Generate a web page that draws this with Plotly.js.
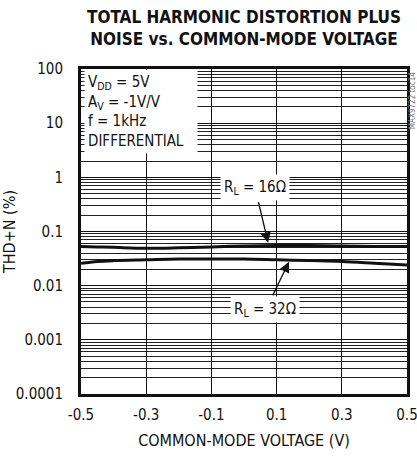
<!DOCTYPE html>
<html><head><meta charset="utf-8">
<script src="https://cdn.plot.ly/plotly-3.0.1.min.js"></script>
<style>body{margin:0;background:#fff}#c{width:417px;height:456px}</style>
</head><body><div id="c"></div>
<script>
const vcm = [-0.5, -0.45, -0.4, -0.3, -0.2, -0.1, 0.0, 0.1, 0.2, 0.3, 0.4, 0.5];
const thd16 = [0.053, 0.052, 0.051, 0.049, 0.050, 0.052, 0.054, 0.055, 0.055, 0.054, 0.053, 0.053];
const thd32 = [0.026, 0.028, 0.029, 0.030, 0.031, 0.031, 0.031, 0.030, 0.029, 0.028, 0.026, 0.024];
const xTicks = [-0.5, -0.3, -0.1, 0.1, 0.3, 0.5];
const xTickText = ['-0.5', '-0.3', '-0.1', '0.1', '0.3', '0.5'];
const yTicks = [0.0001, 0.001, 0.01, 0.1, 1, 10, 100];
const yTickText = ['0.0001', '0.001', '0.01', '0.1', '1', '10', '100'];

const F = 'DejaVu Sans Condensed, sans-serif';
const L = v => Math.log10(v);
const traces = [
  {x: vcm, y: thd16, mode: 'lines', line: {color: '#111', width: 3, shape: 'spline'}, hoverinfo: 'skip'},
  {x: vcm, y: thd32, mode: 'lines', line: {color: '#111', width: 3, shape: 'spline'}, hoverinfo: 'skip'}
];
const layout = {
  width: 417, height: 456,
  margin: {l: 81, r: 10, t: 69, b: 62},
  paper_bgcolor: '#fff', plot_bgcolor: '#fff',
  showlegend: false,
  font: {family: F, size: 14, color: '#111'},
  title: {text: '<b>TOTAL HARMONIC DISTORTION PLUS<br>NOISE vs. COMMON-MODE VOLTAGE</b>',
    font: {family: F, size: 17, color: '#111'}, xref: 'paper', x: 0.5, xanchor: 'center', y: 0.95, yanchor: 'middle'},
  xaxis: {range: [-0.5, 0.5], tickvals: xTicks, ticktext: xTickText, showgrid: true,
    gridcolor: '#111', gridwidth: 1, zeroline: false, showline: true, mirror: true,
    linecolor: '#111', linewidth: 3, ticks: '', tickfont: {size: 15}, ticklabeloverflow: 'allow',
    ticklabelstandoff: 5,
    title: {text: 'COMMON-MODE VOLTAGE (V)', font: {size: 16}, standoff: 12}},
  yaxis: {type: 'log', range: [-4, 2], tickvals: yTicks, ticktext: yTickText, showgrid: true,
    gridcolor: '#111', gridwidth: 1, zeroline: false, showline: true, mirror: true,
    linecolor: '#111', linewidth: 3, ticks: '', tickfont: {size: 15}, ticklabelstandoff: 12,
    minor: {showgrid: true, gridcolor: '#222', gridwidth: 1, dtick: 'D1'},
    title: {text: 'THD+N (%)', font: {size: 16}, standoff: 0}},
  annotations: [
    {xref: 'paper', yref: 'paper', x: 0.008, y: 1.0, xanchor: 'left', yanchor: 'top', align: 'left',
     text: 'V<sub>DD</sub> = 5V<br>A<sub>V</sub> = -1V/V<br>f = 1kHz<br>DIFFERENTIAL',
     showarrow: false, bgcolor: '#fff', borderpad: 3, width: 106, font: {size: 15}},
    {x: 0.034, y: L(0.64), text: 'R<sub>L</sub> = 16Ω', showarrow: false, bgcolor: '#fff', borderpad: 3, font: {size: 15}},
    {x: 0.064, y: L(0.0036), text: 'R<sub>L</sub> = 32Ω', showarrow: false, bgcolor: '#fff', borderpad: 3, font: {size: 15}},
    {x: 0.074, y: L(0.062), text: '', showarrow: true, arrowhead: 2, arrowsize: 1.6, arrowwidth: 1.3, arrowcolor: '#111', ax: -10, ay: -42},
    {x: 0.138, y: L(0.0275), text: '', showarrow: true, arrowhead: 2, arrowsize: 1.6, arrowwidth: 1.3, arrowcolor: '#111', ax: -17, ay: 35},
    {xref: 'paper', yref: 'paper', x: 1.0, y: 0.995, xanchor: 'center', yanchor: 'top', xshift: 5, textangle: -90,
     text: 'MAX9722 toc14', showarrow: false, font: {size: 8, color: '#777'}}
  ]
};
Plotly.newPlot('c', traces, layout, {staticPlot: true});
</script></body></html>
